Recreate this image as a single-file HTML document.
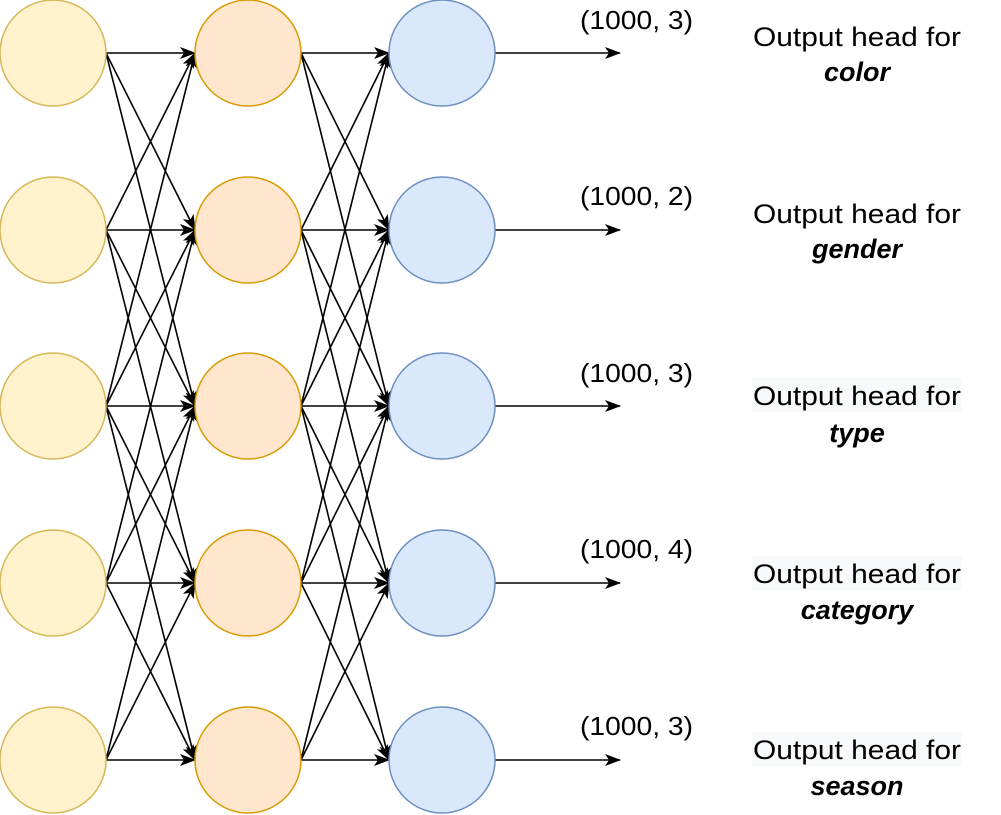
<!DOCTYPE html>
<html><head><meta charset="utf-8"><style>
html,body{margin:0;padding:0;background:#fff;}
svg{display:block;font-family:"Liberation Sans",Arial,sans-serif;}
</style></head><body>
<svg id="net" width="1001" height="815" viewBox="0 0 1001 815" xmlns="http://www.w3.org/2000/svg">
<defs><marker id="ah" markerWidth="16" markerHeight="12" refX="15" refY="6" orient="auto" markerUnits="userSpaceOnUse"><path d="M0,0 L16,6 L0,12 L4,6 z" fill="#000"/></marker></defs>
<g id="edges"></g><g id="nodes"></g><g id="labels"></g>
</svg>
<script>
const rowsY = [53, 230, 406, 583, 760];
const layerX = [53, 248, 442];
const shapes = ["(1000, 3)", "(1000, 2)", "(1000, 3)", "(1000, 4)", "(1000, 3)"];
const heads = ["color", "gender", "type", "category", "season"];
const shapeY = [29, 205, 382, 558, 735];
const head1Y = [46, 223, 405, 583, 759];
const head2Y = [81, 258, 442, 619, 795];
const headBg = [false, false, true, true, true];
const R = 53;
const fills = [["#fff2cc","#d6b656"],["#ffe6cc","#d79b00"],["#dae8fc","#6c8ebf"]];
const NS = "http://www.w3.org/2000/svg";
const E = document.getElementById('edges'), N = document.getElementById('nodes'), L = document.getElementById('labels');
function mk(tag, attrs, parent){const e=document.createElementNS(NS,tag);for(const k in attrs)e.setAttribute(k,attrs[k]);parent.appendChild(e);return e;}
for (let l=0;l<2;l++){
  for (let i=0;i<rowsY.length;i++){
    for (let j=0;j<rowsY.length;j++){
      if (Math.abs(i-j)>2) continue;
      const ln = mk('line',{x1:layerX[l]+R,y1:rowsY[i],x2:layerX[l+1]-R,y2:rowsY[j],stroke:'#000','stroke-width':1.6,'marker-end':'url(#ah)'},E);
      
      
    }
  }
}
for (let l=0;l<3;l++){
  for (let i=0;i<rowsY.length;i++){
    const c = mk('circle',{cx:layerX[l],cy:rowsY[i],r:R,fill:fills[l][0],stroke:fills[l][1],'stroke-width':1.5},N);
    
    
  }
}
for (let i=0;i<rowsY.length;i++){
  const a = mk('line',{x1:layerX[2]+R,y1:rowsY[i],x2:620,y2:rowsY[i],stroke:'#000','stroke-width':1.6,'marker-end':'url(#ah)'},E);
  
  
  const t = mk('text',{x:580,y:shapeY[i],'font-size':26,textLength:113,lengthAdjust:'spacingAndGlyphs',fill:'#000'},L);
  t.textContent = shapes[i];
  
  
  if (headBg[i]) {
    const bg = mk('rect',{x:752,y:head1Y[i]-27,width:210,height:34,fill:'#f8f9fa'},L);
    
    
  }
  const h1 = mk('text',{x:753,y:head1Y[i],'font-size':27,textLength:208,lengthAdjust:'spacingAndGlyphs',fill:'#000'},L);
  h1.textContent = 'Output head for';
  
  
  const h2 = mk('text',{x:857,y:head2Y[i],'text-anchor':'middle','font-size':27,'font-weight':'bold','font-style':'italic',fill:'#000'},L);
  h2.textContent = heads[i];
  
  
}
</script>
</body></html>
